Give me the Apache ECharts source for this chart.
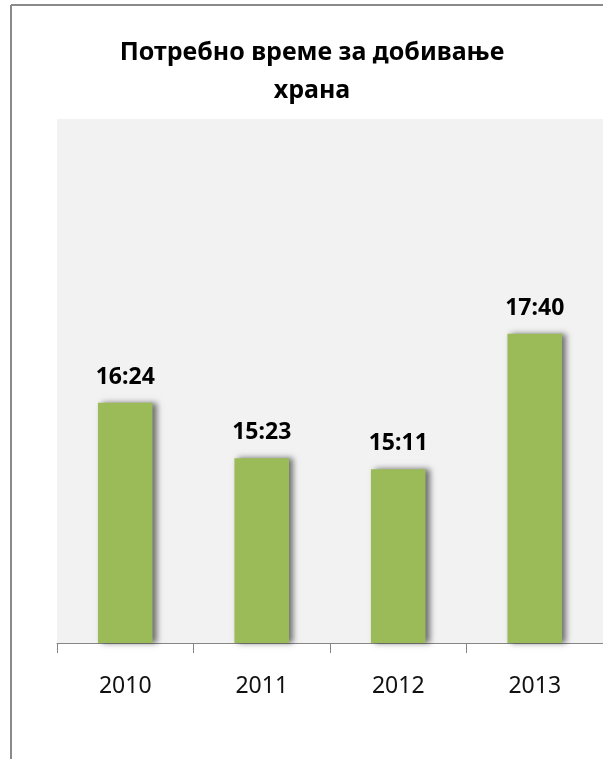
<!DOCTYPE html>
<html>
<head>
<meta charset="utf-8">
<script src="https://cdn.jsdelivr.net/npm/echarts@6/dist/echarts.min.js"></script>
<style>
  html, body { margin: 0; padding: 0; background: #fff; }
  #chart { width: 603px; height: 759px; }
</style>
</head>
<body>
<div id="chart"></div>
<script>
// податоци (минути од полноќ)
let years = ['2010', '2011', '2012', '2013'];
let times = ['16:24', '15:23', '15:11', '17:40'];
let axisMin = '12:00';
let axisMax = '21:36';

function toMin(t) {
	let p = t.split(':');
	return parseInt(p[0], 10) * 60 + parseInt(p[1], 10);
}
function toTime(m) {
	let h = Math.floor(m / 60);
	let mm = m % 60;
	return h + ':' + (mm < 10 ? '0' + mm : mm);
}

let chart = echarts.init(document.getElementById('chart'));

let option = {
	backgroundColor: '#fff',
	title: {
		text: 'Потребно време за добивање\nхрана',
		left: 307,
		top: 29,
		textAlign: 'center',
		textStyle: {
			fontFamily: 'Noto Sans',
			fontWeight: 'bold',
			fontSize: 25,
			lineHeight: 38,
			color: '#000'
		}
	},
	graphic: [
		{ type: 'line', shape: { x1: 11, y1: 5, x2: 11, y2: 759 }, style: { stroke: '#8a8a8a', lineWidth: 2 } },
		{ type: 'line', shape: { x1: 11, y1: 5, x2: 603, y2: 5 }, style: { stroke: '#8a8a8a', lineWidth: 2 } }
	],
	grid: {
		left: 57,
		right: -2,
		top: 119,
		bottom: 116,
		show: true,
		backgroundColor: '#f2f2f2',
		borderWidth: 0
	},
	xAxis: {
		type: 'category',
		data: years,
		axisLine: { show: true, lineStyle: { color: '#868686', width: 1 } },
		axisTick: { show: true, alignWithLabel: false, interval: 0, length: 10, lineStyle: { color: '#868686', width: 1 } },
		axisLabel: {
			margin: 32,
			fontFamily: 'Noto Sans',
			fontSize: 23,
			color: '#111'
		}
	},
	yAxis: {
		type: 'value',
		min: toMin(axisMin),
		max: toMin(axisMax),
		show: false,
		splitLine: { show: false }
	},
	series: [{
		type: 'bar',
		data: times.map(toMin),
		barWidth: '40%',
		itemStyle: {
			color: '#9bbb59',
			shadowColor: 'rgba(0,0,0,0.55)',
			shadowBlur: 6,
			shadowOffsetX: 4,
			shadowOffsetY: 0
		},
		label: {
			show: true,
			position: 'top',
			distance: 14,
			fontFamily: 'Noto Sans',
			fontWeight: 'bold',
			fontSize: 23,
			color: '#000',
			formatter: function (p) { return toTime(p.value); }
		}
	}],
	animation: false
};

chart.setOption(option);
</script>
</body>
</html>
